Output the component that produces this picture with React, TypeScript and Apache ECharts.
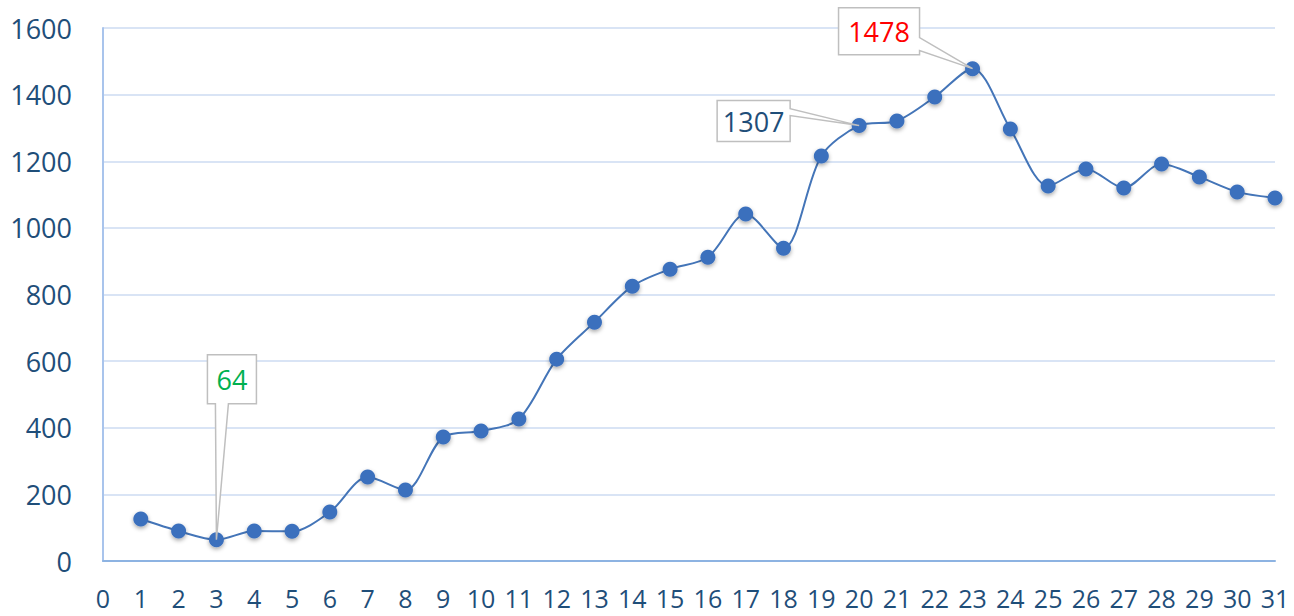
import React, { useEffect, useRef } from "react";
import * as echarts from "echarts";

const days = [1, 2, 3, 4, 5, 6, 7, 8, 9, 10, 11, 12, 13, 14, 15, 16, 17, 18, 19, 20, 21, 22, 23, 24, 25, 26, 27, 28, 29, 30, 31];
const values = [126, 90, 64, 90, 89, 147, 252, 213, 372, 390, 426, 606, 717, 825, 876, 912, 1042, 939, 1216, 1307, 1321, 1393, 1478, 1297, 1126, 1177, 1120, 1192, 1153, 1108, 1090];

const xTicks = { min: 0, max: 31, interval: 1 };
const yTicks = { min: 0, max: 1600, interval: 200 };

// callouts: which day, text, colour; box offsets relative to the point (layout only)
const callouts = [
  { day: 3, text: "64", color: "#00B050", box: [-9, 40, -185, -136], side: "bottom", wedge: [-1, 12] },
  { day: 20, text: "1307", color: "#1F4E79", box: [-142, -69, -25, 16], side: "right", wedge: [-17, -10] },
  { day: 23, text: "1478", color: "#FF0000", box: [-134, -53, -61, -14], side: "right", wedge: [-31, -18] },
];

const FONT = "'Open Sans', 'Noto Sans', sans-serif";
const TXT = "#1F4E79";

export default function App() {
  const ref = useRef<HTMLDivElement>(null);
  useEffect(() => {
    if (!ref.current) return;
    const chart = echarts.init(ref.current, undefined, { renderer: "svg" });
    chart.setOption({
      animation: false,
      backgroundColor: "#ffffff",
      grid: { left: 103, right: 19, top: 28, bottom: 55, containLabel: false },
      xAxis: {
        type: "value",
        min: xTicks.min,
        max: xTicks.max,
        interval: xTicks.interval,
        axisLine: { show: true, lineStyle: { color: "#8DB3E2", width: 2 } },
        axisTick: { show: false },
        splitLine: { show: false },
        axisLabel: { color: TXT, fontSize: 25, lineHeight: 25, fontFamily: FONT, margin: 24 },
      },
      yAxis: {
        type: "value",
        min: yTicks.min,
        max: yTicks.max,
        interval: yTicks.interval,
        axisLine: { show: true, lineStyle: { color: "#A9C4EC", width: 2 } },
        axisTick: { show: false },
        splitLine: { show: true, lineStyle: { color: "#D9E4F5", width: 2 } },
        axisLabel: {
          color: TXT,
          fontSize: 27,
          fontFamily: FONT,
          margin: 31,
          formatter: (v: number) => String(v),
        },
      },
      series: [
        {
          type: "line",
          data: days.map((d, i) => [d, values[i]]),
          smooth: 0.3,
          symbol: "circle",
          symbolSize: 15,
          lineStyle: { color: "#4475B8", width: 2 },
          itemStyle: {
            color: "#3A6FBD",
            shadowBlur: 4,
            shadowColor: "rgba(0,0,0,0.35)",
            shadowOffsetY: 2,
          },
          z: 3,
        },
      ],
    });

    const graphics: any[] = [];
    callouts.forEach((c) => {
      const v = values[days.indexOf(c.day)];
      const p = chart.convertToPixel({ gridIndex: 0 }, [c.day, v]) as number[];
      const [px, py] = p;
      const [l, r, t, b] = c.box;
      let pts: number[][];
      if (c.side === "bottom") {
        pts = [
          [l, t], [r, t], [r, b], [c.wedge[1], b], [0, 0], [c.wedge[0], b], [l, b],
        ];
      } else {
        pts = [
          [l, t], [r, t], [r, c.wedge[0]], [0, 0], [r, c.wedge[1]], [r, b], [l, b],
        ];
      }
      graphics.push({
        type: "polygon",
        z: 100,
        shape: { points: pts.map(([x, y]) => [px + x, py + y]) },
        style: { fill: "#ffffff", stroke: "#BFBFBF", lineWidth: 1.5 },
      });
      graphics.push({
        type: "text",
        z: 101,
        x: px + (l + r) / 2,
        y: py + (t + b) / 2,
        style: {
          text: c.text,
          fill: c.color,
          fontSize: 27,
          fontFamily: FONT,
          align: "center",
          verticalAlign: "middle",
          textAlign: "center",
          textVerticalAlign: "middle",
        },
      });
    });
    chart.setOption({ graphic: graphics });

    return () => chart.dispose();
  }, []);
  return (
    <div
      ref={ref}
      style={{ position: "fixed", left: 0, top: 0, width: 1294, height: 616, background: "#fff" }}
    />
  );
}
